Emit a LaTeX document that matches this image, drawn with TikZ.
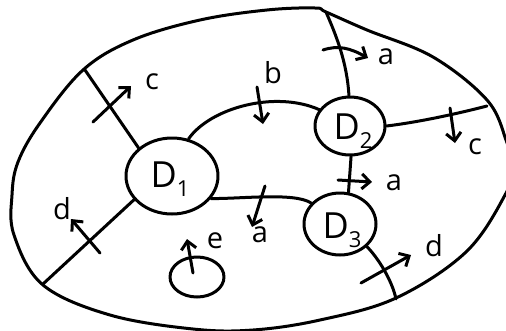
\documentclass[tikz,border=0pt]{standalone}
\usepackage{fontspec}
\setmainfont{Open Sans}
\usetikzlibrary{shapes.geometric,arrows.meta}

\tikzset{
  pen/.style={line width=3pt, line cap=round, line join=round},
  region/.style={pen, draw, ellipse, inner sep=0pt},
  flow/.style={pen, -{Straight Barb[length=8pt,width=15pt,line width=3pt]}},
  lbl/.style={inner sep=0pt, font=\fontsize{29}{29}\selectfont},
  dlbl/.style={inner sep=0pt, font=\fontsize{36}{36}\selectfont},
}
\newcommand{\Dsub}[1]{D\raisebox{-9pt}{\fontsize{22}{22}\selectfont #1}}

\begin{document}
\begin{tikzpicture}[x=1pt,y=-1pt]
\useasboundingbox (0,0) rectangle (506,330);
\clip (0,0) rectangle (506,330);

% outer boundary
\draw[pen] plot[smooth cycle, tension=0.6] coordinates {
  (326,12) (367,30) (433,57) (487,100) (506,140) (512,168) (505,195)
  (466,252) (396,298) (320,320) (253,330) (193,329) (110,315) (43,285)
  (14,235) (12,195) (18,162) (40,123) (83,70) (133,40) (200,20) (267,10) (315,8)};

% points where the boundaries meet the outer curve
\coordinate (o1) at (85,70);
\coordinate (o3) at (326,12);
\coordinate (o4) at (487,106);
\coordinate (o7) at (396,299);
\coordinate (o8) at (43,284);

% inner regions
\node[region, minimum width=92pt, minimum height=76pt] (D1) at (172,176) {};
\node[region, minimum width=70pt, minimum height=58pt] (D2) at (350,126) {};
\node[region, minimum width=72pt, minimum height=62pt] (D3) at (340,224) {};
\node[region, minimum width=54pt, minimum height=40pt] (E) at (197,277) {};

\node[dlbl] (D1t) at (170,179) {\Dsub{1}};
\node[dlbl] (D2t) at (353,131) {\Dsub{2}};
\node[dlbl] (D3t) at (342,230) {\Dsub{3}};

% boundaries between regions
\draw[pen] (D1.140) -- (o1);
\draw[pen] (D1.66) .. controls (210,108) and (275,90) .. (D2.152);
\draw[pen] (D2.92) .. controls (347,62) and (336,35) .. (o3);
\draw[pen] (D2.0) .. controls (420,122) and (460,113) .. (o4);
\draw[pen] (D1.-30) .. controls (240,199) and (295,192) .. (D3.144);
\draw[pen] (D3.75) -- (D2.-88);
\draw[pen] (D3.-40) .. controls (378,258) and (392,280) .. (o7);
\draw[pen] (D1.212) -- (o8);

% flux arrows crossing the boundaries
\coordinate (c1s) at (93,122);  \coordinate (c1e) at (131,86);
\draw[flow] (c1s) -- (c1e);
\node[lbl] (c1) at (152,82) {c};

\coordinate (bs) at (257,87);  \coordinate (be) at (263,124);
\draw[flow] (bs) -- (be);
\node[lbl] (b) at (273,73) {b};

\coordinate (a1s) at (323,50);  \coordinate (a1e) at (368,58);
\draw[flow] (a1s) .. controls (338,45) and (350,48) .. (a1e);
\node[lbl] (a1) at (386,57) {a};

\coordinate (c2s) at (450,108);  \coordinate (c2e) at (455,143);
\draw[flow] (c2s) -- (c2e);
\node[lbl] (c2) at (475,147) {c};

\coordinate (a2s) at (265,186);  \coordinate (a2e) at (252,227);
\draw[flow] (a2s) -- (a2e);
\node[lbl] (a2) at (260,235) {a};

\coordinate (a3s) at (338,180);  \coordinate (a3e) at (372,182);
\draw[flow] (a3s) -- (a3e);
\node[lbl] (a3) at (394,183) {a};

\coordinate (d1s) at (361,283);  \coordinate (d1e) at (411,255);
\draw[flow] (d1s) -- (d1e);
\node[lbl] (d1) at (434,246) {d};

\coordinate (d2s) at (100,253);  \coordinate (d2e) at (71,219);
\draw[flow] (d2s) -- (d2e);
\node[lbl] (d2) at (62,209) {d};

\coordinate (es) at (193,273);  \coordinate (ee) at (187,239);
\draw[flow] (es) -- (ee);
\node[lbl] (e) at (215,241) {e};
\end{tikzpicture}
\end{document}
